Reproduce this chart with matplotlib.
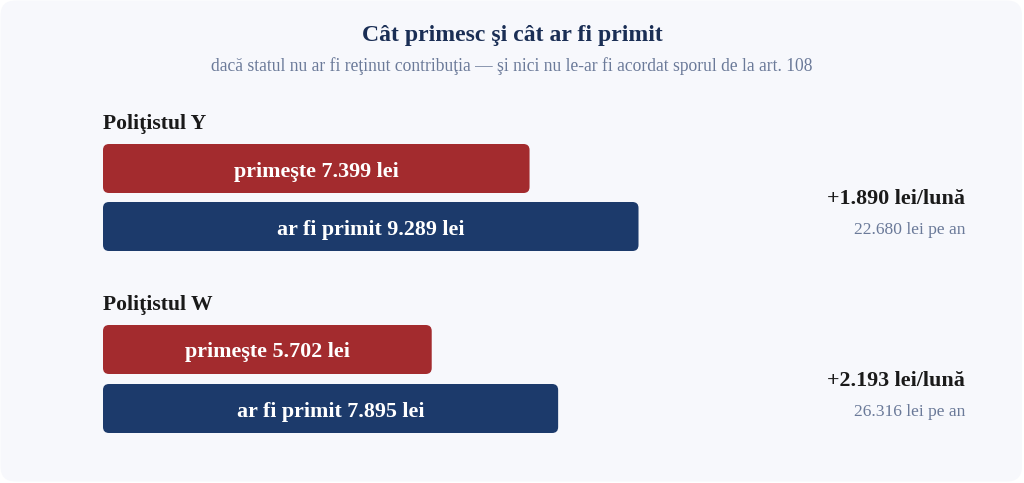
import matplotlib
matplotlib.use("Agg")
import matplotlib.pyplot as plt
from matplotlib.patches import FancyBboxPatch

# ---- data ----
title = "Cât primesc şi cât ar fi primit"
subtitle = "dacă statul nu ar fi reţinut contribuţia — şi nici nu le-ar fi acordat sporul de la art. 108"
groups = ["Poliţistul Y", "Poliţistul W"]
primeste = [7399, 5702]
ar_fi_primit = [9289, 7895]
diff_luna = ["+1.890 lei/lună", "+2.193 lei/lună"]
diff_an = ["22.680 lei pe an", "26.316 lei pe an"]
label_primeste = ["primeşte 7.399 lei", "primeşte 5.702 lei"]
label_ar_fi = ["ar fi primit 9.289 lei", "ar fi primit 7.895 lei"]

# ---- style ----
W, H = 1024, 483
RED = "#a32b2e"
NAVY = "#1c3a6b"
CARD = "#f7f8fc"
TITLE_C = "#1a2e55"
SUB_C = "#6b7a99"
DARK = "#1a1a1a"
FONT = ["Liberation Serif", "DejaVu Serif"]

fig = plt.figure(figsize=(W / 100, H / 100), dpi=100)
fig.patch.set_facecolor("white")

# overlay axes in pixel coords for card + text
tx = fig.add_axes([0, 0, 1, 1])
tx.set_xlim(0, W)
tx.set_ylim(H, 0)
tx.axis("off")
tx.add_patch(FancyBboxPatch((0.5, 0.5), W - 2.5, H - 2, boxstyle="round,pad=0,rounding_size=15",
                            fc=CARD, ec="none", zorder=0))

# data axes: x in lei, y in pixels from top
s = 0.05765  # px per leu
x0 = 103
ax = fig.add_axes([0, 0, 1, 1])
ax.set_xlim(-x0 / s, (W - x0) / s)
ax.set_ylim(H, 0)
ax.axis("off")
ax.patch.set_alpha(0)

rad_px = 6
bar_h = 49
label_y = [124, 305]
red_top = [144, 325]
blue_top = [202, 384]
BIG = 15.8

for i in range(len(groups)):
    tx.text(x0, label_y[i], groups[i], ha="left", va="center", fontsize=15.6,
            fontweight="bold", color=DARK, family=FONT)
    for val, top, col, lab in [(primeste[i], red_top[i], RED, label_primeste[i]),
                               (ar_fi_primit[i], blue_top[i], NAVY, label_ar_fi[i])]:
        p = FancyBboxPatch((0, top), val, bar_h,
                           boxstyle=f"round,pad=0,rounding_size={rad_px / s}",
                           mutation_aspect=s, fc=col, ec="none", zorder=2)
        ax.add_patch(p)
        ax.text(val / 2, top + bar_h / 2 + 3, lab, ha="center", va="center", fontsize=BIG,
                fontweight="bold", color="white", family=FONT, zorder=3)
    mid = (red_top[i] + blue_top[i] + bar_h) / 2
    tx.text(965, mid + 2, diff_luna[i], ha="right", va="center", fontsize=BIG,
            fontweight="bold", color=DARK, family=FONT)
    tx.text(965, mid + 33, diff_an[i], ha="right", va="center", fontsize=12.6,
            color=SUB_C, family=FONT)

tx.text(W / 2, 35, title, ha="center", va="center", fontsize=17.1, fontweight="bold",
        color=TITLE_C, family=FONT)
tx.text(W / 2, 66, subtitle, ha="center", va="center", fontsize=12.65,
        color=SUB_C, family=FONT)

fig.savefig("out.png", dpi=100, facecolor="white")
